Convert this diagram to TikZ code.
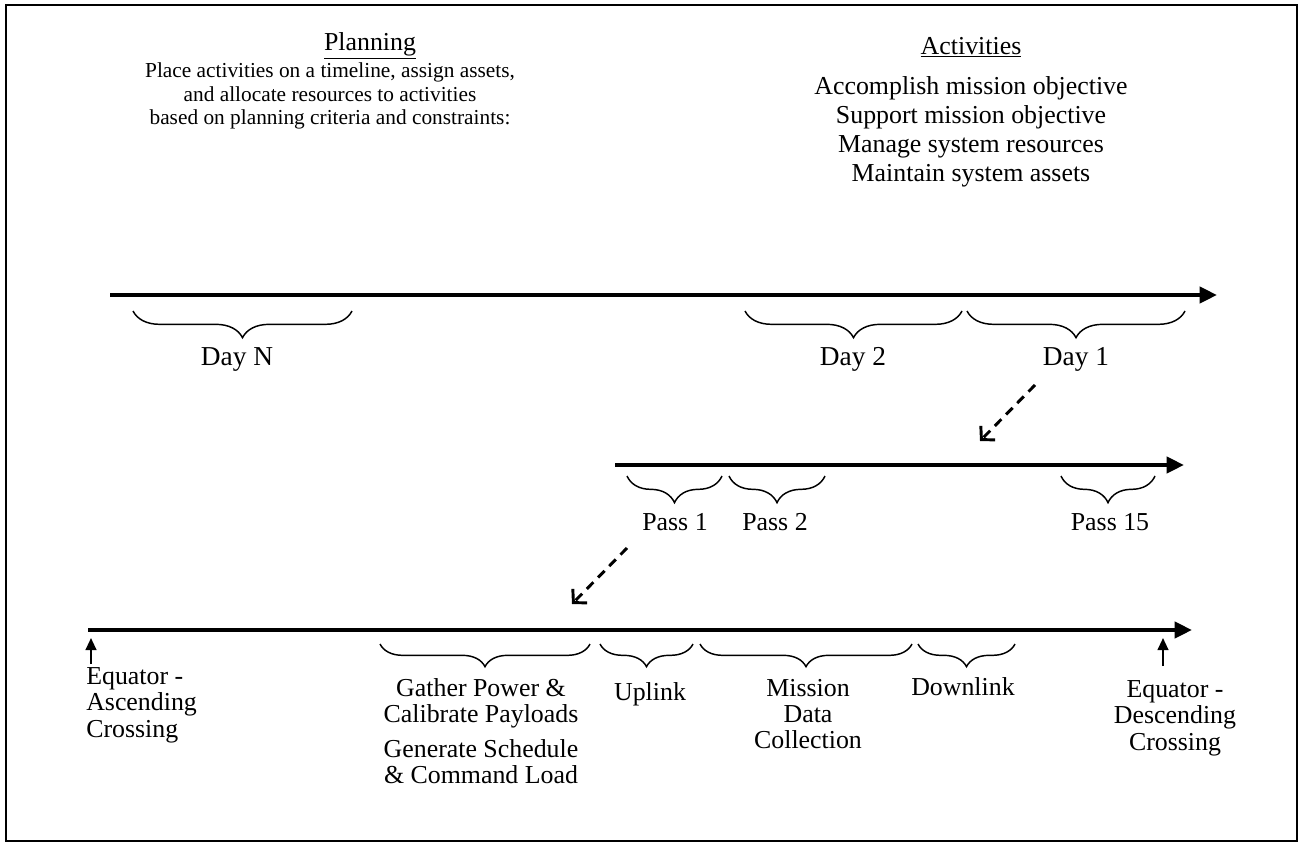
\documentclass[tikz,border=0pt]{standalone}
\usepackage{fontspec}
\setmainfont{Liberation Serif}
\usetikzlibrary{arrows.meta,decorations.pathreplacing}
\begin{document}
\begin{tikzpicture}[x=0.75pt,y=-0.75pt,
  txt/.style={inner sep=0pt, align=center, font=\fontsize{19.4}{21}\selectfont},
  timeline/.style={line width=3pt, -{Triangle[length=13pt,width=12pt]}},
  brc/.style={line width=1.1pt, decorate, decoration={brace,mirror,amplitude=#1}},
  brc/.default=20pt,
  zoomarrow/.style={line width=2.2pt, dash pattern=on 7pt off 5pt, -{Straight Barb[length=7pt,width=15pt]}},
  marker/.style={line width=1.5pt, -{Triangle[length=9pt,width=8pt]}}]
\useasboundingbox (0,0) rectangle (1303,846);
\draw[line width=1.6pt] (6,5) rectangle (1297,841);

% headings
\node[txt] (plan) at (370,46) {\underline{Planning}};
\node[txt, font=\fontsize{16}{17.6}\selectfont] (planbody) at (330,96)
  {Place activities on a timeline, assign assets,\\and allocate resources to activities\\based on planning criteria and constraints:};
\node[txt] (act) at (971,47) {\underline{Activities}};
\node[txt, font=\fontsize{19.4}{21.75}\selectfont] (actbody) at (971,132)
  {Accomplish mission objective\\Support mission objective\\Manage system resources\\Maintain system assets};

% mission-level timeline
\coordinate (t1s) at (110,295);
\coordinate (t1e) at (1217,295);
\draw[timeline] (t1s) -- (t1e);
\coordinate (dNa) at (133,311); \coordinate (dNb) at (352,311);
\coordinate (d2a) at (745,311); \coordinate (d2b) at (962,311);
\coordinate (d1a) at (967,311); \coordinate (d1b) at (1185,311);
\draw[brc] (dNa) -- (dNb);
\draw[brc] (d2a) -- (d2b);
\draw[brc] (d1a) -- (d1b);
\node[txt, font=\fontsize{20.5}{22}\selectfont] (dayN) at (237,359) {Day N};
\node[txt, font=\fontsize{20.5}{22}\selectfont] (day2) at (853,359) {Day 2};
\node[txt, font=\fontsize{20.5}{22}\selectfont] (day1) at (1076,359) {Day 1};

% day-level timeline
\coordinate (z1s) at (1035,385);
\coordinate (z1e) at (980,441);
\draw[zoomarrow] (z1s) -- (z1e);
\coordinate (t2s) at (615,465);
\coordinate (t2e) at (1184,465);
\draw[timeline] (t2s) -- (t2e);
\coordinate (p1a) at (627,476); \coordinate (p1b) at (722,476);
\coordinate (p2a) at (729,476); \coordinate (p2b) at (825,476);
\coordinate (p15a) at (1061,476); \coordinate (p15b) at (1155,476);
\draw[brc] (p1a) -- (p1b);
\draw[brc] (p2a) -- (p2b);
\draw[brc] (p15a) -- (p15b);
\node[txt] (pass1) at (675,522) {Pass 1};
\node[txt] (pass2) at (775,522) {Pass 2};
\node[txt] (pass15) at (1110,522) {Pass 15};

% pass-level timeline
\coordinate (z2s) at (627,548);
\coordinate (z2e) at (572,604);
\draw[zoomarrow] (z2s) -- (z2e);
\coordinate (t3s) at (88,630);
\coordinate (t3e) at (1192,630);
\draw[timeline] (t3s) -- (t3e);
\coordinate (ea0) at (91,664); \coordinate (ea1) at (91,638);
\coordinate (ed0) at (1163,666); \coordinate (ed1) at (1163,638);
\draw[marker] (ea0) -- (ea1);
\draw[marker] (ed0) -- (ed1);
\coordinate (ga) at (380,644); \coordinate (gb) at (590,644);
\coordinate (ua) at (600,644); \coordinate (ub) at (693,644);
\coordinate (ma) at (700,644); \coordinate (mb) at (912,644);
\coordinate (dla) at (918,644); \coordinate (dlb) at (1015,644);
\draw[brc=17pt] (ga) -- (gb);
\draw[brc=17pt] (ua) -- (ub);
\draw[brc=17pt] (ma) -- (mb);
\draw[brc=17pt] (dla) -- (dlb);

\node[txt, align=left, anchor=west, font=\fontsize{19.4}{20}\selectfont] (eqasc) at (86,705)
  {Equator -\\Ascending\\Crossing};
\node[txt, font=\fontsize{19.4}{19.5}\selectfont] (gather) at (481,731)
  {Gather Power \&\\Calibrate Payloads\\[7pt]Generate Schedule\\\& Command Load};
\node[txt] (uplink) at (650,694) {Uplink};
\node[txt, font=\fontsize{19.4}{19.5}\selectfont] (mission) at (808,714)
  {Mission\\Data\\Collection};
\node[txt] (downlink) at (963,687) {Downlink};
\node[txt, font=\fontsize{19.4}{20}\selectfont] (eqdesc) at (1175,718)
  {Equator -\\Descending\\Crossing};
\end{tikzpicture}
\end{document}
